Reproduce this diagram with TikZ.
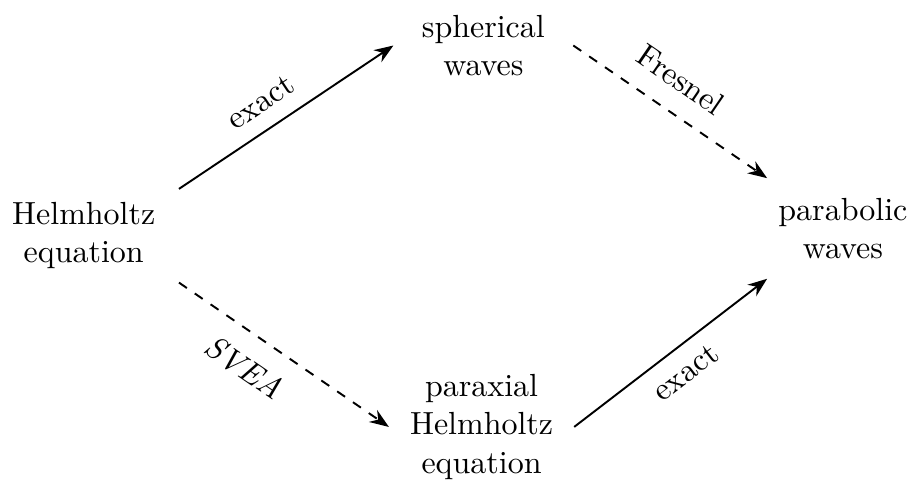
\documentclass[tikz,border=0pt]{standalone}
\usepackage{tikz}
\usetikzlibrary{arrows.meta, positioning}

\begin{document}
\begin{tikzpicture}[
    eqn/.style={align=center},
    link/.style={-{Stealth[length=6pt,width=4.5pt]}, semithick},
    approx/.style={link, dashed}
  ]
  \useasboundingbox (0,0) rectangle (10.03,5.32);

  % die vier Wellengleichungen
  \node[eqn, inner xsep=7.2pt, inner ysep=4pt] (helm)  at (0.92,2.73) {Helmholtz\\equation};
  \node[eqn, inner xsep=8.7pt] (sph)   at (5.31,4.82) {spherical\\waves};
  \node[eqn, inner ysep=6pt]   (parab) at (9.26,2.81) {parabolic\\waves};
  \node[eqn, inner xsep=6.4pt] (parax) at (5.29,0.63) {paraxial\\Helmholtz\\equation};

  % oben: exakt, dann Fresnel
  \draw[link]   (helm.north east) -- node[sloped, above=1.5pt, pos=0.45] {exact} (sph.west);
  \draw[approx] (sph.east) -- node[sloped, above=3pt, pos=0.46] {Fresnel} (parab.north west);

  % unten: SVEA, dann exakt
  \draw[approx] (helm.south east) -- node[sloped, below=3pt, pos=0.4] {\textit{SVEA}} (parax.west);
  \draw[link]   (parax.east) -- node[sloped, below=1pt] {exact} (parab.south west);
\end{tikzpicture}
\end{document}
